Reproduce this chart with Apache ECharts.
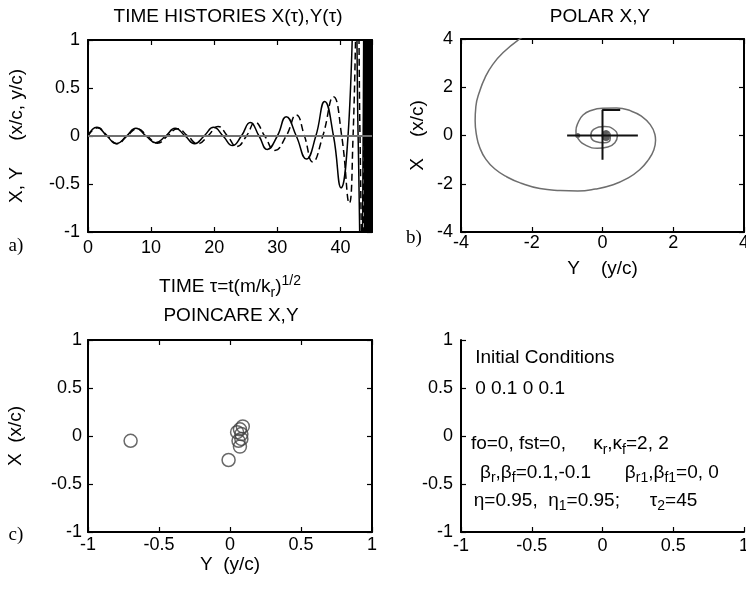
<!DOCTYPE html>
<html>
<head>
<meta charset="utf-8">
<script src="https://cdn.jsdelivr.net/npm/echarts@6/dist/echarts.min.js"></script>
<style>
html, body { margin: 0; padding: 0; background: #fff; }
#main { width: 746px; height: 589px; }
</style>
</head>
<body>
<div id="main"></div>
<script>
// a) time histories, key points (tau, value)
var tauX = [0, 1.4, 3.0, 4.5, 6.1, 7.6, 9.2, 10.7, 12.3, 13.8, 15.4, 16.9, 18.4, 19.9, 21.4, 22.9, 24.3, 25.7, 27.1, 28.4, 30.0, 31.4, 33.0, 34.6, 36.1, 37.5, 38.9, 40.1, 41.2, 42.3, 42.8, 43.3, 43.6, 43.75, 43.9, 44.05, 44.2, 44.35, 44.5, 44.65, 44.8, 44.95];
var histX = [0, 0.09, 0, -0.08, 0, 0.08, 0, -0.07, 0, 0.08, 0, -0.08, 0, 0.09, 0, -0.10, 0, 0.14, 0, -0.14, 0, 0.20, 0, -0.24, 0, 0.36, 0, -0.54, 0, 1.6, 0, -1.6, 0, 2.5, -2.5, 2.5, -2.5, 2.5, -2.5, 2.5, -2.5, 2.5];
var tauY = [0, 1.5, 3.1, 4.6, 6.2, 7.8, 9.4, 11.0, 12.6, 14.2, 15.8, 17.4, 19.0, 20.6, 22.1, 23.6, 25.1, 26.5, 28.0, 29.6, 31.4, 33.0, 34.3, 35.6, 37.2, 38.9, 40.2, 41.4, 42.0, 42.7, 43.1, 43.5, 43.7, 43.82, 43.97, 44.12, 44.27, 44.42, 44.57, 44.72, 44.87, 45.0];
var histY = [0, 0.085, 0, -0.08, 0, 0.075, 0, -0.075, 0, 0.075, 0, -0.08, 0, 0.10, 0, -0.11, 0, 0.14, 0, -0.15, 0, 0.22, 0, -0.27, 0, 0.41, 0, -0.70, 0, 1.6, 0, -1.6, 0, 2.5, -2.5, 2.5, -2.5, 2.5, -2.5, 2.5, -2.5, 2.5];

// b) polar trajectory, pairs [Y, X] from the centre outwards
var polarPath = [
  [0.1, 0.0], [0.2, 0.1], [0.22, -0.12], [0.05, -0.3], [-0.2, -0.25], [-0.33, 0.0], [-0.25, 0.25], [0.06, 0.37],
  [0.3, 0.27], [0.42, -0.02], [0.35, -0.3], [0.15, -0.48], [-0.15, -0.53], [-0.45, -0.42], [-0.68, -0.15], [-0.75, 0.2],
  [-0.7, 0.5], [-0.55, 0.85], [-0.3, 1.05], [0.0, 1.13], [0.4, 1.14], [0.8, 1.02], [1.1, 0.8], [1.35, 0.45], [1.48, 0.05],
  [1.5, -0.2], [1.45, -0.6], [1.3, -1.0], [1.05, -1.42], [0.7, -1.78], [0.3, -2.04], [-0.2, -2.22], [-0.7, -2.3],
  [-1.2, -2.28], [-1.77, -2.2], [-2.3, -1.98], [-2.7, -1.72], [-3.05, -1.38], [-3.3, -0.98], [-3.47, -0.5], [-3.56, 0.0],
  [-3.6, 0.6], [-3.58, 1.2], [-3.48, 1.8], [-3.32, 2.4], [-3.1, 2.95], [-2.8, 3.45], [-2.38, 3.96], [-1.9, 4.4]
];
var crossH = [[-1, 0], [1, 0]];
var crossV = [[0, -1], [0, 1.06], [0.5, 1.06]];
var polarBlob = [[0.1, 0]];
var polarDot = [[-0.7, 0]];

// c) poincare section, pairs [Y, X]
var poincarePts = [[-0.70, -0.05], [-0.01, -0.25], [0.07, -0.11], [0.08, -0.03], [0.06, -0.05], [0.05, 0.04], [0.07, 0.07], [0.09, 0.10], [0.08, 0.02]];

var FONT = '"Liberation Sans", Arial, sans-serif';
var SERIF = '"Liberation Serif", "DejaVu Serif", serif';

function pairs(xs, ys) {
  var out = [];
  for (var i = 0; i < xs.length; i++) out.push([xs[i], ys[i]]);
  return out;
}

function axis(g, min, max, step, pos, opt) {
  opt = opt || {};
  var a = {
    type: 'value', gridIndex: g, min: min, max: max, interval: step, position: pos,
    axisLine: { show: true, onZero: false, lineStyle: { color: '#000', width: 2 } },
    axisTick: { show: true, inside: true, length: 5, lineStyle: { color: '#000', width: 1.2 } },
    axisLabel: { show: opt.label !== false, margin: opt.margin || 8, color: '#000', fontSize: 18, fontFamily: FONT, showMaxLabel: opt.showMax !== false },
    splitLine: { show: false }
  };
  if (opt.name) {
    a.name = opt.name;
    a.nameLocation = 'middle';
    a.nameGap = opt.nameGap;
    a.nameTextStyle = { color: '#000', fontSize: 19, fontFamily: FONT, rich: opt.rich };
  }
  return a;
}

var subRich = {
  n: { fontSize: 19, fontFamily: FONT, color: '#000', verticalAlign: 'middle' },
  s: { fontSize: 14, fontFamily: FONT, color: '#000', verticalAlign: 'middle', padding: [12, 0, 0, 0] },
  p: { fontSize: 14, fontFamily: FONT, color: '#000', verticalAlign: 'middle', padding: [0, 0, 12, 0] }
};

var chart = echarts.init(document.getElementById('main'));

var option = {
  animation: false,
  textStyle: { fontFamily: FONT },
  grid: [
    { left: 88, top: 40, width: 284, height: 192, outerBoundsMode: 'none' },
    { left: 461, top: 39, width: 283, height: 193, outerBoundsMode: 'none' },
    { left: 88, top: 340, width: 284, height: 192, outerBoundsMode: 'none' },
    { left: 461, top: 340, width: 283, height: 192, outerBoundsMode: 'none' }
  ],
  xAxis: [
    axis(0, 0, 45, 10, 'bottom', { margin: 7, showMax: false, name: '{n|TIME τ=t(m/k}{s|r}{n|)}{p|1/2}', nameGap: 42, rich: subRich }),
    axis(0, 0, 45, 10, 'top', { label: false }),
    axis(1, -4, 4, 2, 'bottom', { margin: 2, name: 'Y    (y/c)', nameGap: 27 }),
    axis(1, -4, 4, 2, 'top', { label: false }),
    axis(2, -1, 1, 0.5, 'bottom', { margin: 4, name: 'Y  (y/c)', nameGap: 21 }),
    axis(2, -1, 1, 0.5, 'top', { label: false }),
    axis(3, -1, 1, 0.5, 'bottom', { margin: 5 })
  ],
  yAxis: [
    axis(0, -1, 1, 0.5, 'left', { margin: 8, name: 'X, Y     (x/c, y/c)', nameGap: 62 }),
    axis(0, -1, 1, 0.5, 'right', { label: false }),
    axis(1, -4, 4, 2, 'left', { margin: 8, name: 'X    (x/c)', nameGap: 34 }),
    axis(1, -4, 4, 2, 'right', { label: false }),
    axis(2, -1, 1, 0.5, 'left', { margin: 6, name: 'X  (x/c)', nameGap: 63 }),
    axis(2, -1, 1, 0.5, 'right', { label: false }),
    axis(3, -1, 1, 0.5, 'left', { margin: 8 })
  ],
  series: [
    {
      name: 'X', type: 'line', xAxisIndex: 0, yAxisIndex: 0, data: pairs(tauX, histX),
      showSymbol: false, smooth: 0.5, clip: true,
      lineStyle: { color: '#000', width: 1.5 }
    },
    {
      name: 'Y', type: 'line', xAxisIndex: 0, yAxisIndex: 0, data: pairs(tauY, histY),
      showSymbol: false, smooth: 0.5, clip: true,
      lineStyle: { color: '#000', width: 1.5, type: [7, 4] },
      markLine: {
        silent: true, symbol: 'none', label: { show: false },
        lineStyle: { color: '#707070', width: 2, type: 'solid' },
        data: [{ yAxis: 0 }]
      }
    },
    {
      name: 'polar', type: 'line', xAxisIndex: 2, yAxisIndex: 2, data: polarPath,
      showSymbol: false, smooth: 0.5, clip: true,
      lineStyle: { color: '#6e6e6e', width: 1.5 }
    },
    {
      name: 'crossH', type: 'line', xAxisIndex: 2, yAxisIndex: 2, data: crossH,
      showSymbol: false, lineStyle: { color: '#111', width: 2 }
    },
    {
      name: 'crossV', type: 'line', xAxisIndex: 2, yAxisIndex: 2, data: crossV,
      showSymbol: false, lineStyle: { color: '#111', width: 2 }
    },
    {
      name: 'blob', type: 'scatter', xAxisIndex: 2, yAxisIndex: 2, data: polarBlob,
      symbolSize: [9, 11], itemStyle: { color: '#333' }
    },
    {
      name: 'dot', type: 'scatter', xAxisIndex: 2, yAxisIndex: 2, data: polarDot,
      symbolSize: 5, itemStyle: { color: '#444' }
    },
    {
      name: 'poincare', type: 'scatter', xAxisIndex: 4, yAxisIndex: 4, data: poincarePts,
      symbol: 'circle', symbolSize: 13,
      itemStyle: { color: 'rgba(0,0,0,0)', borderColor: '#444', borderWidth: 1.5 }
    }
  ]
};

chart.setOption(option);

// titles, panel letters and the text block of panel d
function txt(x, y, text, font, size, align) {
  return {
    type: 'text', x: x, y: y, silent: true,
    style: {
      text: text, fill: '#000', fontSize: size, fontFamily: font,
      align: align || 'center', textAlign: align || 'center',
      verticalAlign: 'middle', textVerticalAlign: 'middle'
    }
  };
}

var notes = [
  { at: [-0.9, 0.81], text: 'Initial Conditions' },
  { at: [-0.9, 0.49], text: '0 0.1 0 0.1' },
  { at: [-0.93, -0.08], text: 'fo=0, fst=0,' },
  { at: [-0.066, -0.08], text: '{n|κ}{s|r}{n|,κ}{s|f}{n|=2, 2}' },
  { at: [-0.866, -0.38], text: '{n|β}{s|r}{n|,β}{s|f}{n|=0.1,-0.1}' },
  { at: [0.158, -0.38], text: '{n|β}{s|r1}{n|,β}{s|f1}{n|=0, 0}' },
  { at: [-0.91, -0.67], text: '{n|η=0.95,  η}{s|1}{n|=0.95;}' },
  { at: [0.334, -0.67], text: '{n|τ}{s|2}{n|=45}' }
];

var graphics = [
  txt(228, 17, 'TIME HISTORIES X(τ),Y(τ)', FONT, 19),
  txt(600, 17, 'POLAR X,Y', FONT, 19),
  txt(231, 316, 'POINCARE X,Y', FONT, 19),
  txt(16, 246, 'a)', SERIF, 19),
  txt(414, 238, 'b)', SERIF, 19),
  txt(16, 535, 'c)', SERIF, 19)
];

notes.forEach(function (n) {
  var p = chart.convertToPixel({ gridIndex: 3 }, n.at);
  var el = txt(p[0], p[1], n.text, FONT, 19, 'left');
  el.style.rich = subRich;
  graphics.push(el);
});

chart.setOption({ graphic: graphics });
</script>
</body>
</html>
